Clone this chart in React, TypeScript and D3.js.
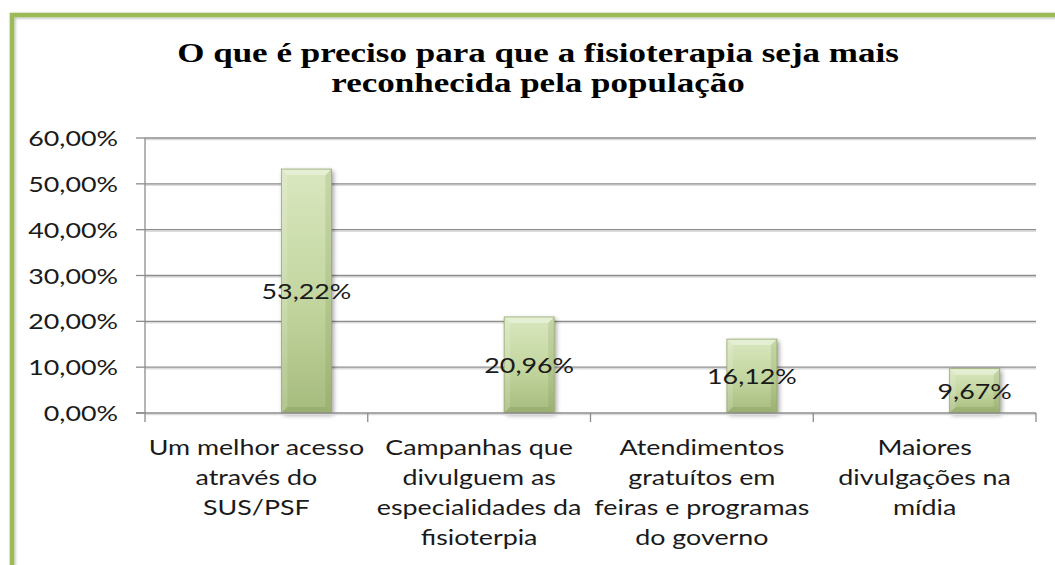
import React from 'react';
import * as d3 from 'd3';

const categories = [
  'Um melhor acesso através do SUS/PSF',
  'Campanhas que divulguem as especialidades da fisioterpia',
  'Atendimentos gratuítos em feiras e programas do governo',
  'Maiores divulgações na mídia',
];
const categoryLines = [
  ['Um melhor acesso', 'através do', 'SUS/PSF'],
  ['Campanhas que', 'divulguem as', 'especialidades da', 'fisioterpia'],
  ['Atendimentos', 'gratuítos em', 'feiras e programas', 'do governo'],
  ['Maiores', 'divulgações na', 'mídia'],
];
const values = [53.22, 20.96, 16.12, 9.67];
const yTicks = [0, 10, 20, 30, 40, 50, 60];
const titleLines = ['O que é preciso para que a fisioterapia seja mais', 'reconhecida pela população'];
// the sheet had three series slots per category; only the last one holds data
const seriesSlots = ['s1', 's2', 's3'];

const W = 1055;
const H = 565;
const margin = { left: 145, right: 19, top: 138, bottom: 152 };
const SX = 1.22; // source picture is stretched horizontally

const fmt = (v: number) => v.toFixed(2).replace('.', ',') + '%';

export default function App() {
  const x = d3.scaleBand<string>().domain(categories).range([margin.left, W - margin.right]).padding(0);
  const y = d3.scaleLinear().domain([0, 60]).range([H - margin.bottom, margin.top]);
  const bw = x.bandwidth();
  const inner = d3.scaleBand<string>().domain(seriesSlots).range([bw * 0.163, bw * 0.837]);
  const barW = inner.bandwidth();
  const x0 = margin.left;
  const x1 = W - margin.right;
  const yBase = y(0);
  const labelFont = 'Lato, Carlito, "Open Sans", sans-serif';

  const stretched = (tx: number, ty: number, s = SX) => `translate(${tx},${ty}) scale(${s},1)`;

  return (
    <svg width={W} height={H} style={{ position: 'absolute', left: 0, top: 0, background: '#fff' }}>
      <defs>
        <linearGradient id="barFill" x1="0" y1="0" x2="0" y2="1">
          <stop offset="0" stopColor="#d9e7bf" />
          <stop offset="0.55" stopColor="#c2d59e" />
          <stop offset="1" stopColor="#a6bb7e" />
        </linearGradient>
        <filter id="shadow" x="-30%" y="-10%" width="160%" height="130%">
          <feGaussianBlur in="SourceAlpha" stdDeviation="2.5" />
          <feOffset dx="2" dy="2" result="b" />
          <feComponentTransfer><feFuncA type="linear" slope="0.4" /></feComponentTransfer>
          <feMerge><feMergeNode /><feMergeNode in="SourceGraphic" /></feMerge>
        </filter>
        <filter id="frameShadow" x="-5%" y="-5%" width="110%" height="110%">
          <feGaussianBlur in="SourceAlpha" stdDeviation="1.5" />
          <feOffset dx="1" dy="1" />
          <feComponentTransfer><feFuncA type="linear" slope="0.3" /></feComponentTransfer>
          <feMerge><feMergeNode /><feMergeNode in="SourceGraphic" /></feMerge>
        </filter>
      </defs>

      {/* frame */}
      <path d={`M${W + 5},15 H12 V${H + 5}`} fill="none" stroke="#9bbb59" strokeWidth={4.5} filter="url(#frameShadow)" />

      {/* title */}
      <g fontFamily='"Liberation Serif", "Times New Roman", serif' fontWeight="bold" fontSize={28} fill="#000" textAnchor="middle">
        {titleLines.map((t, i) => (
          <text key={i} transform={stretched(538, 62 + i * 30, 1.25)}>{t}</text>
        ))}
      </g>

      {/* gridlines */}
      <g>
        {yTicks.filter(t => t > 0).map(t => (
          <g key={t}>
            <line x1={x0} x2={x1} y1={y(t) + 1.5} y2={y(t) + 1.5} stroke="#dcdcdc" strokeWidth={1.5} />
            <line x1={x0} x2={x1} y1={y(t)} y2={y(t)} stroke="#8c8c8c" strokeWidth={1.3} />
          </g>
        ))}
      </g>

      {/* y axis */}
      <line x1={x0} x2={x0} y1={y(60)} y2={yBase} stroke="#8c8c8c" strokeWidth={1.3} />
      <g fontFamily={labelFont} fontSize={22} fill="#1a1a1a" textAnchor="end">
        {yTicks.map(t => (
          <g key={t}>
            <line x1={x0 - 9} x2={x0} y1={y(t)} y2={y(t)} stroke="#8c8c8c" strokeWidth={1.3} />
            <text transform={stretched(118, y(t) + 8)}>{fmt(t)}</text>
          </g>
        ))}
      </g>

      {/* bars */}
      {categories.map((c, i) => {
        const bx = (x(c) as number) + (inner('s3') as number);
        const by = y(values[i]);
        const bh = yBase - by;
        const e = 6;
        return (
          <g key={c}>
            <rect x={bx} y={by} width={barW} height={bh} fill="url(#barFill)" filter="url(#shadow)" />
            <polygon points={`${bx},${by} ${bx + barW},${by} ${bx + barW - e},${by + e} ${bx + e},${by + e}`} fill="#ffffff" opacity={0.35} />
            <polygon points={`${bx},${by} ${bx + e},${by + e} ${bx + e},${yBase - e} ${bx},${yBase}`} fill="#ffffff" opacity={0.15} />
            <polygon points={`${bx + barW},${by} ${bx + barW - e},${by + e} ${bx + barW - e},${yBase - e} ${bx + barW},${yBase}`} fill="#5e7a2e" opacity={0.15} />
            <polygon points={`${bx},${yBase} ${bx + e},${yBase - e} ${bx + barW - e},${yBase - e} ${bx + barW},${yBase}`} fill="#4f6a22" opacity={0.15} />
            <rect x={bx} y={by} width={barW} height={bh} fill="none" stroke="#94aa6a" strokeWidth={0.8} />
          </g>
        );
      })}

      {/* x axis */}
      <line x1={x0} x2={x1} y1={yBase + 1.5} y2={yBase + 1.5} stroke="#dcdcdc" strokeWidth={1.5} />
      <line x1={x0 - 9} x2={x1} y1={yBase} y2={yBase} stroke="#8c8c8c" strokeWidth={1.3} />
      {[...categories.map(c => x(c) as number), x1].map((tx, i) => (
        <line key={i} x1={tx} x2={tx} y1={yBase} y2={yBase + 9} stroke="#8c8c8c" strokeWidth={1.3} />
      ))}

      {/* value labels */}
      <g fontFamily={labelFont} fontSize={22} fill="#1a1a1a" textAnchor="middle">
        {categories.map((c, i) => {
          const cx = (x(c) as number) + (inner('s3') as number) + barW / 2;
          const cy = (y(values[i]) + yBase) / 2;
          return <text key={c} transform={stretched(cx, cy + 8)}>{fmt(values[i])}</text>;
        })}
      </g>

      {/* category labels */}
      <g fontFamily={labelFont} fontSize={22} fill="#1a1a1a" textAnchor="middle">
        {categories.map((c, i) => (
          <g key={c}>
            {categoryLines[i].map((l, j) => (
              <text key={j} transform={stretched((x(c) as number) + bw / 2, 455 + j * 30)}>{l}</text>
            ))}
          </g>
        ))}
      </g>
    </svg>
  );
}
